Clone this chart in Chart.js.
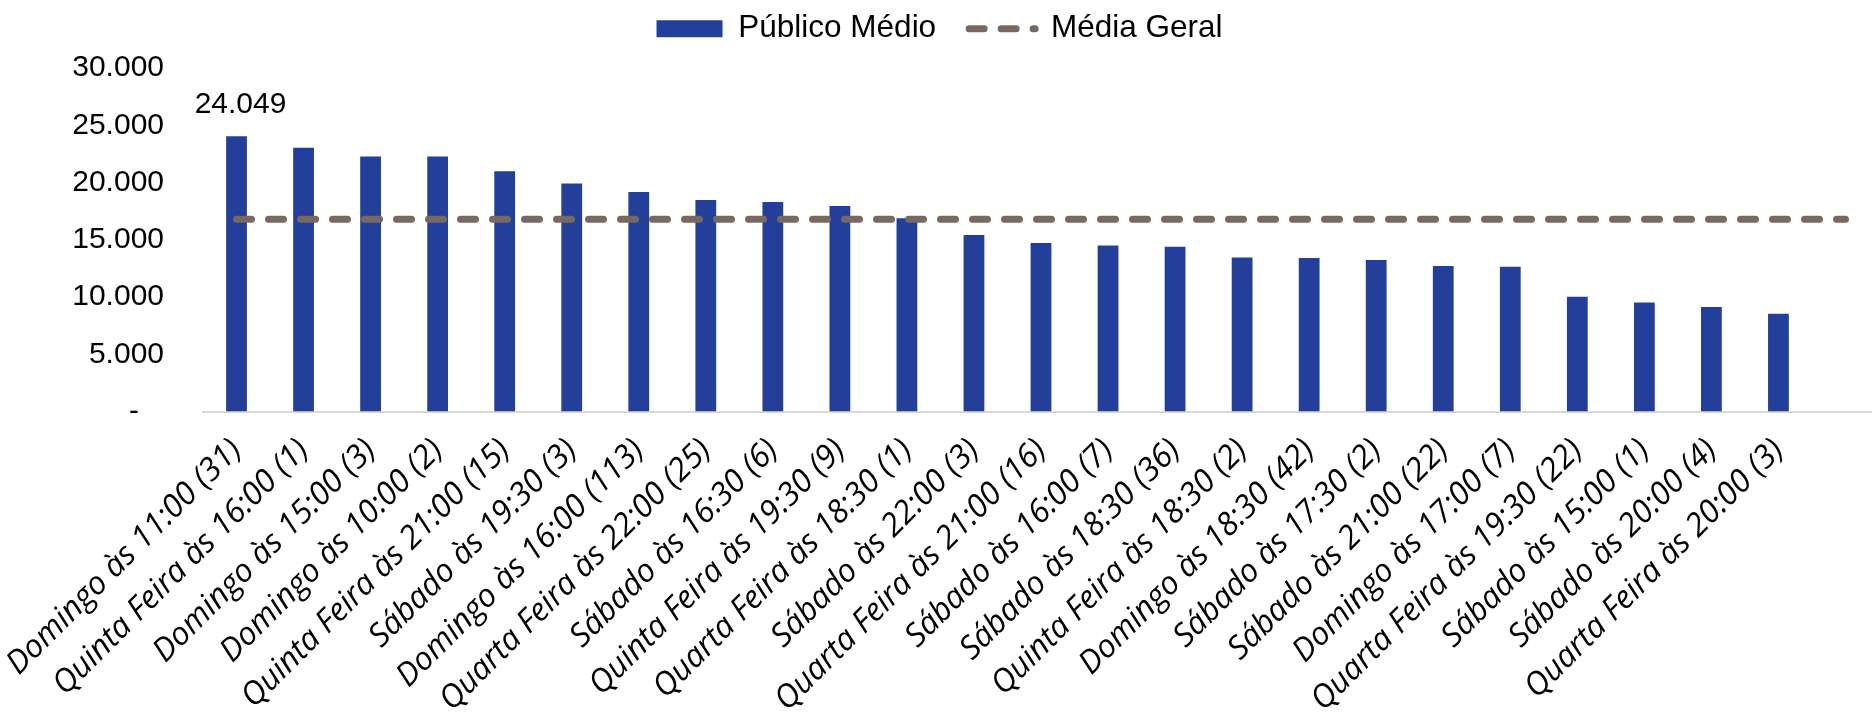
<!DOCTYPE html>
<html>
<head>
<meta charset="utf-8">
<script src="https://cdn.jsdelivr.net/npm/chart.js@4.4.1/dist/chart.umd.min.js"></script>
<style>
  html, body { margin: 0; padding: 0; background: #fff; overflow: hidden; }
  #chart { display: block; }
</style>
</head>
<body>
<canvas id="chart" width="1879" height="713"></canvas>
<script>
// Horário dos jogos (número de jogos entre parênteses)
const categories = [
  "Domingo às 11:00 (31)",
  "Quinta Feira às 16:00 (1)",
  "Domingo às 15:00 (3)",
  "Domingo às 10:00 (2)",
  "Quinta Feira às 21:00 (15)",
  "Sábado às 19:30 (3)",
  "Domingo às 16:00 (113)",
  "Quarta Feira às 22:00 (25)",
  "Sábado às 16:30 (6)",
  "Quinta Feira às 19:30 (9)",
  "Quarta Feira às 18:30 (1)",
  "Sábado às 22:00 (3)",
  "Quarta Feira às 21:00 (16)",
  "Sábado às 16:00 (7)",
  "Sábado às 18:30 (36)",
  "Quinta Feira às 18:30 (2)",
  "Domingo às 18:30 (42)",
  "Sábado às 17:30 (2)",
  "Sábado às 21:00 (22)",
  "Domingo às 17:00 (7)",
  "Quarta Feira às 19:30 (22)",
  "Sábado às 15:00 (1)",
  "Sábado às 20:00 (4)",
  "Quarta Feira às 20:00 (3)",
  "", // empty slot at the end of the axis
];

// Público médio por horário
const publicoMedio = [
  24049, 23030, 22270, 22270, 20985, 19906, 19180, 18480, 18305, 17955,
  16870, 15418, 14718, 14508, 14394, 13458, 13405, 13230, 12705, 12644,
  10019, 9520, 9118, 8531, null,
];

// Média geral (constant line)
const mediaGeral = [
  16783, 16783, 16783, 16783, 16783, 16783, 16783, 16783, 16783, 16783,
  16783, 16783, 16783, 16783, 16783, 16783, 16783, 16783, 16783, 16783,
  16783, 16783, 16783, 16783, 16783,
];

// Y-axis ticks
const yTicks = [0, 5000, 10000, 15000, 20000, 25000, 30000];

// Bars that get a value label
const labelledBars = [0];

// Brazilian number format: 24.049, zero shown as "-"
function formatBR(v) {
  if (v === 0) return "-   ";
  return String(v).replace(/\B(?=(\d{3})+(?!\d))/g, ".");
}

const FONT = "'Liberation Sans', Arial, sans-serif";

// Force the legend block height so the plot starts where it should,
// and pull the legend row up (labels.padding also spaces the items)
const legendHeight = {
  id: "legendHeight",
  beforeInit(chart) {
    const fit = chart.legend.fit;
    chart.legend.fit = function () {
      fit.call(this);
      this.height = 68;
    };
  },
  afterLayout(chart) {
    chart.legend.top -= 20;
    chart.legend.bottom -= 20;
  },
};

// Value label above selected bars
const barLabels = {
  id: "barLabels",
  afterDatasetsDraw(chart) {
    const meta = chart.getDatasetMeta(0);
    const ctx = chart.ctx;
    ctx.save();
    ctx.font = "30px " + FONT;
    ctx.fillStyle = "#000";
    ctx.textAlign = "center";
    ctx.textBaseline = "bottom";
    labelledBars.forEach(i => {
      const bar = meta.data[i];
      ctx.fillText(formatBR(publicoMedio[i]), bar.x + 4, bar.y - 16);
    });
    ctx.restore();
  },
};

const ctx = document.getElementById("chart").getContext("2d");
new Chart(ctx, {
  type: "bar",
  data: {
    labels: categories,
    datasets: [
      {
        type: "bar",
        label: "Público Médio",
        data: publicoMedio,
        backgroundColor: "#233f99",
        borderWidth: 0,
        barPercentage: 0.31,
        categoryPercentage: 1,
        pointStyle: "rect",
        order: 1,
      },
      {
        type: "line",
        label: "Média Geral",
        data: mediaGeral,
        borderColor: "#786960",
        backgroundColor: "#786960",
        borderWidth: 7,
        borderDash: [15, 17],
        borderCapStyle: "round",
        pointRadius: 0,
        pointStyle: "line",
        fill: false,
        order: 0,
      },
    ],
  },
  options: {
    responsive: false,
    maintainAspectRatio: false,
    animation: false,
    layout: { padding: { top: 0, right: 0, bottom: 0, left: 0 } },
    plugins: {
      legend: {
        display: true,
        position: "top",
        labels: {
          usePointStyle: true,
          pointStyleWidth: 66,
          boxHeight: 17,
          padding: 33,
          color: "#000",
          font: { family: FONT, size: 31.5 },
          sort: (a, b) => a.datasetIndex - b.datasetIndex,
          generateLabels(chart) {
            const items = Chart.defaults.plugins.legend.labels.generateLabels(chart);
            items.forEach(item => {
              const ds = chart.data.datasets[item.datasetIndex];
              if (ds.type === "line") {
                item.lineDash = ds.borderDash;
                item.lineCap = "round";
                item.lineWidth = ds.borderWidth;
                item.strokeStyle = ds.borderColor;
              } else {
                item.lineWidth = 0;
              }
            });
            return items;
          },
        },
      },
      tooltip: { enabled: false },
    },
    scales: {
      x: {
        grid: { display: false, drawTicks: false },
        border: { display: true, color: "#d9d9d9", width: 2 },
        ticks: {
          color: "#000",
          font: { family: "'Open Sans', sans-serif", size: 32, style: "italic" },
          maxRotation: 45,
          minRotation: 45,
          autoSkip: false,
          padding: 20,
        },
        afterFit(scale) {
          scale.height = 301.5;
          scale.paddingLeft = 0;
          scale.paddingRight = 0;
        },
      },
      y: {
        min: 0,
        max: 30000,
        grid: { display: false, drawTicks: false },
        border: { display: false },
        ticks: {
          color: "#000",
          font: { family: FONT, size: 30 },
          padding: 39,
          callback: v => formatBR(v),
        },
        afterBuildTicks(scale) { scale.ticks = yTicks.map(v => ({ value: v })); },
        afterFit(scale) { scale.width = 203; },
      },
    },
  },
  plugins: [legendHeight, barLabels],
});
</script>
</body>
</html>
